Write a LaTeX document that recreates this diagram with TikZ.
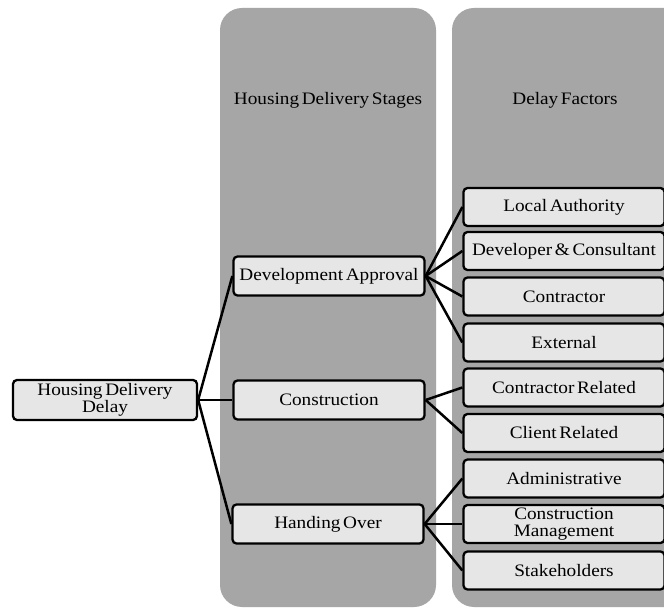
\documentclass[tikz,border=0pt]{standalone}
\usepackage{fontspec}
\setmainfont{Liberation Serif}[FakeStretch=1.1,WordSpace=0.55]
\definecolor{panelgray}{HTML}{A6A6A6}
\definecolor{boxgray}{HTML}{E6E6E6}
\begin{document}
\begin{tikzpicture}[x=1pt,y=-1pt,
  box/.style={draw=black,fill=boxgray,line width=2.3pt,rounded corners=4pt,
    inner sep=0pt,align=center,font=\fontsize{17.5}{16.5}\selectfont},
  stagebox/.style={box,minimum width=191pt,minimum height=39pt},
  factorbox/.style={box,minimum width=201pt,minimum height=38pt},
  rootbox/.style={box,minimum width=184pt,minimum height=40pt},
  panel/.style={fill=panelgray,rounded corners=22pt},
  head/.style={font=\fontsize{17.5}{18}\selectfont},
  link/.style={line width=2.5pt,black}]
\useasboundingbox (0,0) rectangle (664,609);
\fill[white] (0,0) rectangle (664,609);
\path[panel] (220,8) rectangle (436,607);
\path[panel] (452,8) rectangle (700,607);
\node[head] (h1) at (328,100) {Housing Delivery Stages};
\node[head] (h2) at (565,100) {Delay Factors};

\node[rootbox] (root) at (105,400) {Housing Delivery\\Delay};
\node[stagebox] (dev) at (329,276) {Development Approval};
\node[stagebox] (con) at (329,400) {Construction};
\node[stagebox] (han) at (328,524) {Handing Over};

\node[factorbox] (f1) at (564,207) {Local Authority};
\node[factorbox] (f2) at (564,251) {Developer \& Consultant};
\node[factorbox] (f3) at (564,296.5) {Contractor};
\node[factorbox] (f4) at (564,342.5) {External};
\node[factorbox] (f5) at (564,387.5) {Contractor Related};
\node[factorbox] (f6) at (564,433) {Client Related};
\node[factorbox] (f7) at (564,478.5) {Administrative};
\node[factorbox] (f8) at (564,524) {Construction\\Management};
\node[factorbox] (f9) at (564,570.5) {Stakeholders};

\foreach \s in {dev,con,han} \draw[link] (root.east) -- (\s.west);
\foreach \f in {f1,f2,f3,f4} \draw[link] (dev.east) -- (\f.west);
\foreach \f in {f5,f6} \draw[link] (con.east) -- (\f.west);
\foreach \f in {f7,f8,f9} \draw[link] (han.east) -- (\f.west);
\end{tikzpicture}
\end{document}
